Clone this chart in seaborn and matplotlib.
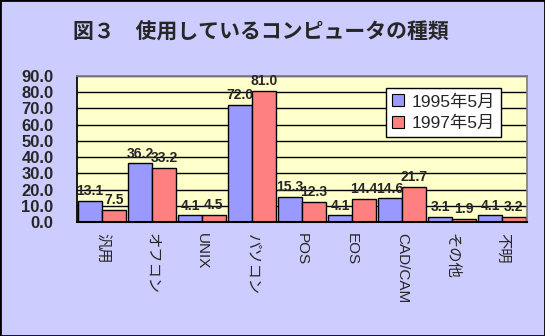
import matplotlib
matplotlib.use("Agg")
import matplotlib.pyplot as plt
import seaborn as sns
import pandas as pd
from matplotlib.patches import Patch

categories = ["汎用", "オフコン", "UNIX", "パソコン", "POS", "EOS", "CAD/CAM", "その他", "不明"]
series_names = ["1995年5月", "1997年5月"]
values_1995 = [13.1, 36.2, 4.1, 72.0, 15.3, 4.1, 14.6, 3.1, 4.1]
values_1997 = [7.5, 33.2, 4.5, 81.0, 12.3, 14.4, 21.7, 1.9, 3.2]
title = "図３　使用しているコンピュータの種類"

sns.set_theme(style="white")
plt.rcParams['font.family'] = ['Liberation Sans', 'Noto Sans CJK JP', 'DejaVu Sans']

df = pd.DataFrame({
    "cat": categories * 2,
    "val": values_1995 + values_1997,
    "series": [series_names[0]] * len(categories) + [series_names[1]] * len(categories),
})

colors = ["#9999FF", "#FF8080"]
fig = plt.figure(figsize=(5.45, 3.36), dpi=100, facecolor="#CCCCFF")
ax = fig.add_axes([0.1413, 0.339, 0.8257, 0.435])
ax.set_facecolor("#FFFFCC")

sns.barplot(data=df, x="cat", y="val", hue="series", palette=colors, ax=ax,
            width=0.95, edgecolor="black", linewidth=1.0, saturation=1, legend=False, gap=0)

ax.set_ylim(0, 90)
ax.set_xlim(-0.5, len(categories) - 0.5)
ax.set_yticks(range(0, 91, 10))
ax.set_yticklabels([f"{v:.1f}" for v in range(0, 91, 10)], fontsize=12, fontweight="bold",
                   family=['Liberation Sans', 'Noto Sans CJK JP'])
ax.yaxis.grid(True, color="black", linewidth=1.0)
ax.set_axisbelow(True)
ax.set_xlabel("")
ax.set_ylabel("")
ax.set_xticks(range(len(categories)))
ax.set_xticklabels(categories, rotation=-90, fontsize=11,
                   family=['Liberation Sans', 'Noto Sans CJK JP'], va="top", ha="center")
ax.tick_params(axis="x", length=0, pad=8)
ax.tick_params(axis="y", length=0, pad=17)
ax.spines["left"].set_color("black")
ax.spines["bottom"].set_color("black")
ax.spines["bottom"].set_linewidth(1.5)
ax.spines["top"].set_color("#808080")
ax.spines["right"].set_color("#808080")

for cont in ax.containers:
    ax.bar_label(cont, labels=[f"{b.get_height():.1f}" for b in cont], fontsize=10,
                 fontweight="bold", padding=2)

handles = [Patch(facecolor=c, edgecolor="black", linewidth=0.8) for c in colors]
leg = ax.legend(handles, series_names, loc="upper left", bbox_to_anchor=(0.687, 0.918),
                borderaxespad=0, frameon=True, fancybox=False, framealpha=1, edgecolor="black",
                handlelength=0.7, handleheight=0.7, handletextpad=0.4, borderpad=0.35,
                labelspacing=0.35, prop={'family': ['Liberation Sans', 'Noto Sans CJK JP'], 'size': 12.5})
leg.get_frame().set_linewidth(1.0)

fig.text(0.479, 0.905, title, ha="center", va="center", fontsize=15, fontweight="bold",
         family=['Noto Sans CJK JP'])

border = plt.Rectangle((0, 0), 1, 1, transform=fig.transFigure, fill=False,
                       edgecolor="black", linewidth=2)
fig.patches.append(border)

fig.savefig("out.png", dpi=100, facecolor=fig.get_facecolor())
